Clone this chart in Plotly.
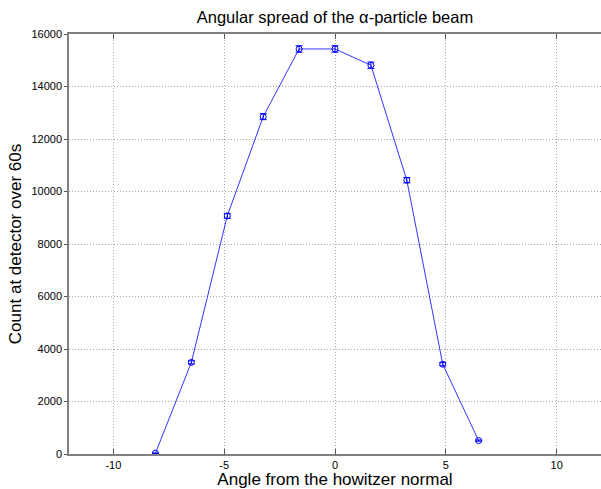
import plotly.graph_objects as go

angles = [-8.1, -6.48, -4.86, -3.24, -1.62, 0.0, 1.62, 3.24, 4.86, 6.48]
counts = [30, 3490, 9070, 12850, 15430, 15430, 14810, 10430, 3420, 510]
errors = [6, 59, 95, 113, 124, 124, 122, 102, 58, 23]

x_ticks = [-10, -5, 0, 5, 10]
y_ticks = [0, 2000, 4000, 6000, 8000, 10000, 12000, 14000, 16000]

blue = "#0000ff"
fig = go.Figure()
fig.add_trace(go.Scatter(
    x=angles, y=counts, mode="lines+markers",
    line=dict(color=blue, width=0.8),
    marker=dict(symbol="circle-open", size=6, color=blue, line=dict(width=1, color=blue)),
    error_y=dict(type="data", array=errors, visible=True, color=blue, thickness=1, width=3.5),
    showlegend=False,
))

axis_color = "#808080"
grid_color = "#a8a8a8"
fig.update_layout(
    width=601, height=489,
    margin=dict(l=69, r=0, t=34, b=35, autoexpand=False),
    paper_bgcolor="white", plot_bgcolor="white",
    font=dict(family="Liberation Sans, Arial, sans-serif", size=11, color="black"),
    title=dict(text="Angular spread of the α-particle beam", x=0.5, xref="paper", xanchor="center",
               y=1 - 17 / 489, yref="container", yanchor="middle",
               font=dict(size=16.5, color="black")),
    xaxis=dict(range=[-12, 12], tickvals=x_ticks, ticktext=[str(v) for v in x_ticks],
               showgrid=True, gridcolor=grid_color, griddash="1px,2px", gridwidth=1,
               zeroline=False, showline=True, linecolor=axis_color, linewidth=1.5,
               mirror="ticks", ticks="inside", ticklen=5, tickcolor="#555555",
               title=dict(text="Angle from the howitzer normal", font=dict(size=17), standoff=4),
               automargin=False),
    yaxis=dict(range=[0, 16000], tickvals=y_ticks, ticktext=[str(v) for v in y_ticks],
               showgrid=True, gridcolor=grid_color, griddash="1px,2px", gridwidth=1,
               zeroline=False, showline=True, linecolor=axis_color, linewidth=1.5,
               mirror=True, ticks="outside", ticklen=3, tickcolor="#555555",
               title=dict(text="Count at detector over 60s", font=dict(size=17), standoff=6),
               automargin=False),
)

fig.write_html("out.html", config={"displayModeBar": False},
               post_script="document.body.style.margin='0';")
